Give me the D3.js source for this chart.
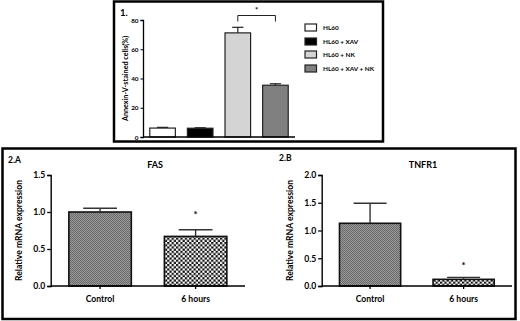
<!DOCTYPE html>
<html><head><meta charset="utf-8">
<script src="https://cdn.jsdelivr.net/npm/d3@7"></script>
<style>body{margin:0;background:#fff}svg{display:block}text{font-family:Lato,"Open Sans",sans-serif;font-weight:bold;fill:#000}</style>
</head><body>
<script>
// Panel 1 data
const groups1 = ["HL60", "HL60 + XAV", "HL60 + NK", "HL60 + XAV + NK"];
const values1 = [6.1, 6.0, 71.2, 35.4];
const errors1 = [6.6, 6.3, 75.0, 36.4];
const yTicks1 = [0, 20, 40, 60, 80];
// Panel 2 data
const cats2 = ["Control", "6 hours"];
const fasValues = [1.0, 0.67];
const fasErrors = [1.05, 0.76];
const tnfValues = [1.13, 0.12];
const tnfErrors = [1.49, 0.155];
const yTicksFas = [0.0, 0.5, 1.0, 1.5];
const yTicksTnf = [0.0, 0.5, 1.0, 1.5, 2.0];

const svg = d3.select("body").append("svg").attr("width", 520).attr("height", 321);
const defs = svg.append("defs");
const pg = defs.append("pattern").attr("id","grayp").attr("width",2).attr("height",2).attr("patternUnits","userSpaceOnUse");
pg.append("rect").attr("width",2).attr("height",2).attr("fill","#9a9a9a");
pg.append("rect").attr("width",1).attr("height",1).attr("fill","#6a6a6a");
pg.append("rect").attr("x",1).attr("y",1).attr("width",1).attr("height",1).attr("fill","#6a6a6a");
const pc = defs.append("pattern").attr("id","checkp").attr("width",4.4).attr("height",4.4).attr("patternUnits","userSpaceOnUse");
pc.append("rect").attr("width",4.4).attr("height",4.4).attr("fill","#fff");
pc.append("rect").attr("width",2.2).attr("height",2.2).attr("fill","#111");
pc.append("rect").attr("x",2.2).attr("y",2.2).attr("width",2.2).attr("height",2.2).attr("fill","#111");

// Boxes
svg.append("rect").attr("x",114).attr("y",1.5).attr("width",269).attr("height",140).attr("fill","none").attr("stroke","#000").attr("stroke-width",2.5);
svg.append("rect").attr("x",2.5).attr("y",148.5).attr("width",513).attr("height",170.5).attr("fill","#fff").attr("stroke","#000").attr("stroke-width",2.5);

// ---------- Panel 1 ----------
const colors1 = ["#ffffff", "#000000", "#d4d4d4", "#808080"];
const x1 = d3.scaleBand().domain(groups1).range([143, 295]).paddingInner(0.32).paddingOuter(0.18);
const y1 = d3.scaleLinear().domain([0, 80]).range([137, 20]);
const g1 = svg.append("g");
g1.selectAll("rect.b").data(groups1).join("rect")
  .attr("x", d => x1(d)).attr("width", x1.bandwidth())
  .attr("y", (d,i) => y1(values1[i])).attr("height", (d,i) => y1(0) - y1(values1[i]))
  .attr("fill", (d,i) => colors1[i]).attr("stroke", "#222").attr("stroke-width", 1.2);
groups1.forEach((d,i) => {
  const cx = x1(d) + x1.bandwidth()/2, hw = x1.bandwidth()*0.22;
  g1.append("line").attr("x1",cx).attr("x2",cx).attr("y1",y1(values1[i])).attr("y2",y1(errors1[i])).attr("stroke","#222").attr("stroke-width",1.2);
  g1.append("line").attr("x1",cx-hw).attr("x2",cx+hw).attr("y1",y1(errors1[i])).attr("y2",y1(errors1[i])).attr("stroke","#222").attr("stroke-width",1.2);
});
const ax1 = g1.append("g").attr("transform","translate(143,0)").call(d3.axisLeft(y1).tickValues(yTicks1).tickSize(2.5).tickPadding(2));
ax1.selectAll("text").style("font-size","6.3px");
ax1.select(".domain").attr("stroke-width",1.3);
g1.append("line").attr("x1",143).attr("x2",295).attr("y1",y1(0)).attr("y2",y1(0)).attr("stroke","#000").attr("stroke-width",1.3);
g1.append("text").attr("transform","translate(128,"+((y1(0)+y1(80))/2)+") rotate(-90)").attr("text-anchor","middle").style("font-size","7.2px").text("Annexin-V-stained cells(%)");
g1.append("text").attr("x",120).attr("y",16).style("font-size","9.5px").text("1.");
// significance bracket
const bx1 = x1(groups1[2]) + x1.bandwidth()/2, bx2 = x1(groups1[3]) + x1.bandwidth()/2;
g1.append("path").attr("d", `M${bx1},21.5V15.5H${bx2}V21.5`).attr("fill","none").attr("stroke","#222").attr("stroke-width",1);
g1.append("text").attr("x",(bx1+bx2)/2).attr("y",13).attr("text-anchor","middle").style("font-size","7.5px").text("*");
// legend
const leg = g1.append("g");
groups1.forEach((d,i) => {
  const yy = [27.5, 41.5, 54.5, 68.5][i];
  leg.append("rect").attr("x",305).attr("y",yy-3.5).attr("width",11.5).attr("height",7).attr("fill",colors1[i]).attr("stroke","#222").attr("stroke-width",1.2);
  leg.append("text").attr("x",323).attr("y",yy+2.2).style("font-size","6.4px").text(d);
});

// ---------- Panel 2 ----------
function panel(opts){
  const g = svg.append("g");
  const x = d3.scaleBand().domain(cats2).range([opts.x0, opts.x1]).paddingInner(0.346).paddingOuter(0.19);
  const y = d3.scaleLinear().domain([0, opts.ymax]).range([286, 175]);
  const fills = ["url(#grayp)", "url(#checkp)"];
  g.selectAll("rect").data(cats2).join("rect")
    .attr("x", d => x(d)).attr("width", x.bandwidth())
    .attr("y", (d,i) => y(opts.values[i])).attr("height", (d,i) => y(0) - y(opts.values[i]))
    .attr("fill", (d,i) => fills[i]).attr("stroke","#111").attr("stroke-width",1.6);
  cats2.forEach((d,i) => {
    const cx = x(d) + x.bandwidth()/2, hw = x.bandwidth()*0.27;
    g.append("line").attr("x1",cx).attr("x2",cx).attr("y1",y(opts.values[i])).attr("y2",y(opts.errors[i])).attr("stroke","#333").attr("stroke-width",1.4);
    g.append("line").attr("x1",cx-hw).attr("x2",cx+hw).attr("y1",y(opts.errors[i])).attr("y2",y(opts.errors[i])).attr("stroke","#333").attr("stroke-width",1.4);
  });
  const ay = g.append("g").attr("transform",`translate(${opts.x0},0)`).call(d3.axisLeft(y).tickValues(opts.ticks).tickFormat(d3.format(".1f")).tickSize(3.5).tickPadding(2));
  ay.selectAll("text").style("font-size","8.6px");
  ay.select(".domain").attr("stroke-width",1.4);
  ay.selectAll(".tick line").attr("stroke-width",1.3);
  const axx = g.append("g").attr("transform","translate(0,286)").call(d3.axisBottom(x).tickSize(3).tickPadding(7));
  axx.select(".domain").attr("d", `M${opts.x0},0H${opts.x1}`).attr("stroke-width",1.4);
  axx.selectAll(".tick line").attr("stroke-width",1.3);
  axx.selectAll("text").style("font-size","8.6px");
  g.append("text").attr("transform",`translate(${opts.x0-29},${(y(0)+y(opts.ymax))/2}) rotate(-90)`).attr("text-anchor","middle").style("font-size","8.6px").text("Relative mRNA expression");
  g.append("text").attr("x",opts.labelX).attr("y",opts.labelY).style("font-size","8.5px").text(opts.label);
  g.append("text").attr("x",opts.titleX).attr("y",168).attr("text-anchor","middle").style("font-size","9px").text(opts.title);
  const sx = x(cats2[1]) + x.bandwidth()/2;
  g.append("text").attr("x",sx).attr("y",y(opts.errors[1]) - opts.starGap).attr("text-anchor","middle").style("font-size","9.5px").text("*");
}
panel({x0:50.7, x1:245, ymax:1.5, values:fasValues, errors:fasErrors, ticks:yTicksFas, label:"2.A", labelX:8, labelY:163, title:"FAS", titleX:155, starGap:12});
panel({x0:321.7, x1:512, ymax:2.0, values:tnfValues, errors:tnfErrors, ticks:yTicksTnf, label:"2.B", labelX:279, labelY:161, title:"TNFR1", titleX:423, starGap:8});
</script>
</body></html>
